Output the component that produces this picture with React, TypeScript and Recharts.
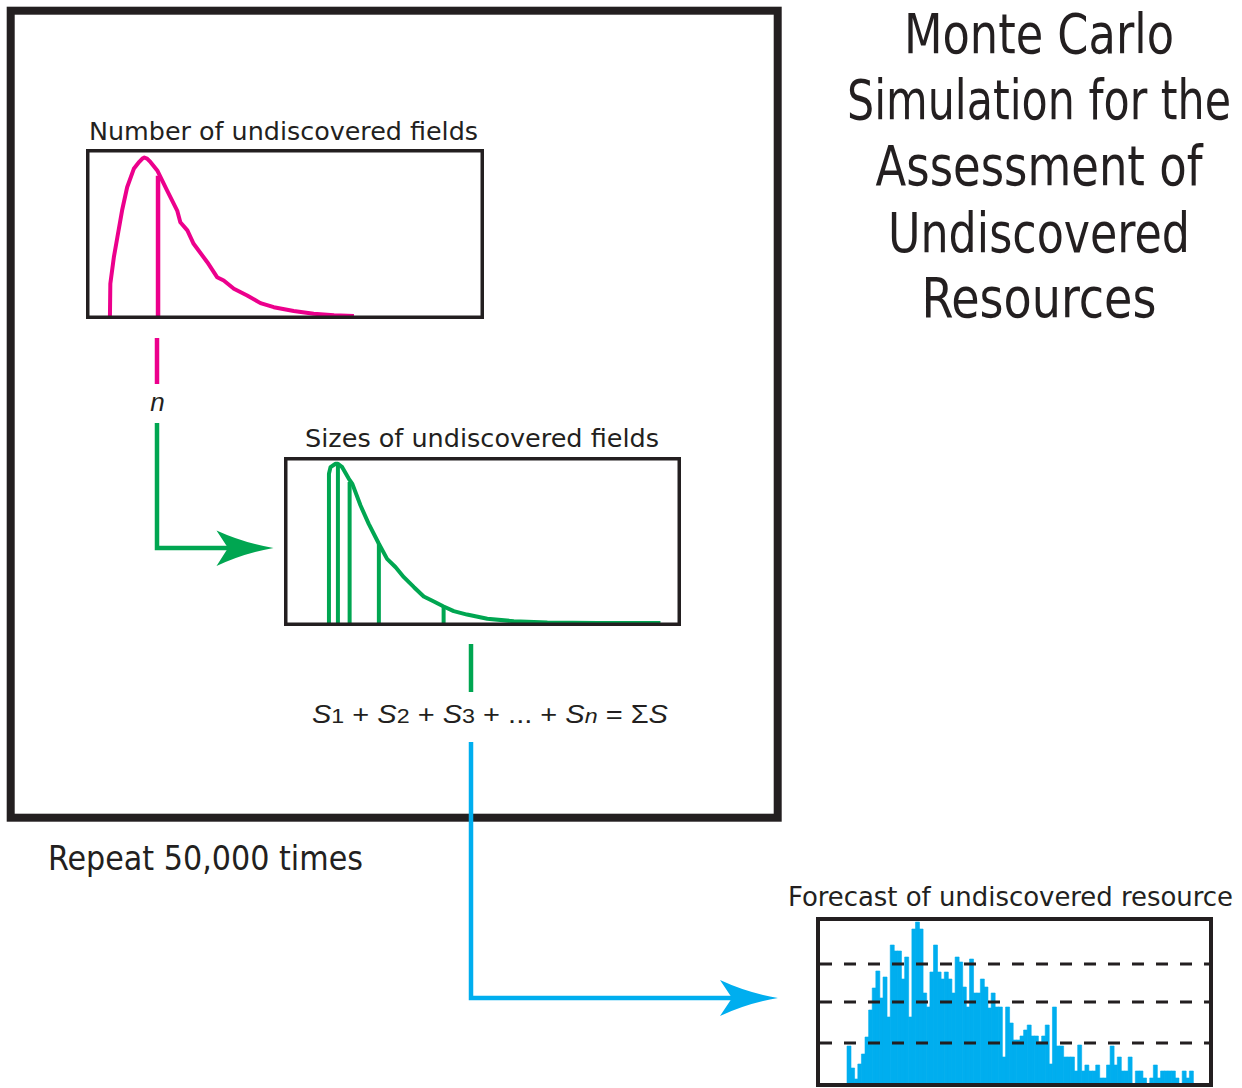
import React from 'react';
import { LineChart, Line, XAxis, YAxis, ReferenceLine, BarChart, Bar } from 'recharts';

// ---------- data ----------
const titleLines = ['Monte Carlo', 'Simulation for the', 'Assessment of', 'Undiscovered', 'Resources'];

// Number of undiscovered fields (pink curve)
const fieldCountX = [5.1, 5.2, 6.1, 7.0, 8.2, 9.5, 11.2, 12.6, 13.4, 13.9, 14.6, 15.5, 17.2, 19.7, 22.3, 23.1, 24.9, 26.5, 30.0, 32.5, 34.2, 36.8, 40.2, 43.6, 47.0, 52.1, 57.2, 62.4, 67.5];
const fieldCountP = [0, 19.8, 36.1, 48.3, 64.7, 79.0, 90.3, 94.6, 96.6, 97.2, 96.6, 94.4, 89.3, 77.0, 64.7, 57.5, 52.5, 44.3, 33.0, 23.8, 21.8, 16.7, 12.6, 7.9, 5.4, 3.1, 1.4, 0.4, 0];
const drawnCount = 17.4;
const drawnCountP = 86;

// Sizes of undiscovered fields (green curve)
const fieldSizeX = [10.5, 10.5, 10.9, 12.2, 12.8, 13.9, 15.6, 16.5, 18.6, 20.7, 23.3, 25.4, 27.6, 29.7, 32.3, 34.8, 37.4, 39.9, 42.5, 45.9, 51.1, 57.9, 66.5, 79.3, 95.5];
const fieldSizeP = [0, 92.1, 96.2, 98.3, 98.3, 96.2, 89.0, 85.9, 72.5, 61.2, 48.9, 39.6, 34.4, 28.3, 22.1, 16.4, 13.3, 10.2, 7.3, 5.2, 2.6, 1.1, 0.3, 0, 0];
const sampledSizes = [12.8, 15.8, 23.3, 39.9];
const sampledSizeP = [98, 87, 49, 10];

// Forecast histogram
const forecastCounts = [
  37, 15, 4, 19, 29, 46, 73, 95, 112, 85,
  106, 66, 138, 132, 132, 104, 126, 66, 154, 161,
  154, 90, 76, 111, 138, 111, 104, 111, 104, 90,
  126, 121, 96, 76, 124, 90, 90, 104, 96, 75,
  90, 76, 76, 26, 76, 60, 43, 43, 47, 53,
  58, 47, 47, 41, 47, 58, 19, 76, 37, 37,
  26, 26,
  26, 12, 38, 12, 18, 12, 12, 18, 5, 5, 18, 37, 18, 26, 12, 12, 26, 0, 12, 12, 5, 0, 5, 18, 5, 12, 12, 12, 12, 5, 0, 12, 5, 12,
];
const forecastGrid = [40, 81, 119];

// ---------- derived tables ----------
const countData = fieldCountX.map((x, i) => ({ x, p: fieldCountP[i] }));
const sizeData = fieldSizeX.map((x, i) => ({ x, p: fieldSizeP[i] }));
const histData = forecastCounts.map((c, i) => ({ bin: i + 1, c }));

const INK = '#231f20';
const PINK = '#ec008c';
const GREEN = '#00a651';
const BLUE = '#00aeef';
const FONT = "'Liberation Sans Narrow', 'DejaVu Sans Condensed', Roboto, sans-serif";
const MATH_FONT = "'Liberation Sans', Arial, sans-serif";

const titleBaselines = [53, 119, 185, 252, 317];
const titleWidths = [270, 384, 327, 302, 235];
const TITLE_CX = 1039;
const TITLE_SX = 0.85;

export default function App() {
  return (
    <div style={{ position: 'absolute', left: 0, top: 0, width: 1242, height: 1088, background: '#fff', fontFamily: FONT }}>
      {/* background decorations */}
      <svg width={1242} height={1088} style={{ position: 'absolute', left: 0, top: 0 }}>
        {/* big repeat box */}
        <rect x={10.7} y={10.7} width={767} height={807} fill="none" stroke={INK} strokeWidth={8} />

        {/* title */}
        {titleLines.map((t, i) => (
          <text key={t} x={0} y={0} transform={`translate(${TITLE_CX},${titleBaselines[i]}) scale(${TITLE_SX},1)`}
            textAnchor="middle" fontSize={55} fill={INK}
            textLength={titleWidths[i] / TITLE_SX} lengthAdjust="spacingAndGlyphs" fontFamily={FONT}>{t}</text>
        ))}

        {/* labels */}
        <text x={89} y={140} fontSize={25} fill={INK} textLength={389} lengthAdjust="spacingAndGlyphs" fontFamily={FONT}>Number of undiscovered fields</text>
        <text x={305} y={447} fontSize={25} fill={INK} textLength={354} lengthAdjust="spacingAndGlyphs" fontFamily={FONT}>Sizes of undiscovered fields</text>
        <text x={1233} y={906} textAnchor="end" fontSize={27} fill={INK} textLength={445} lengthAdjust="spacingAndGlyphs" fontFamily={FONT}>Forecast of undiscovered resource</text>
        <text x={48} y={870} fontSize={34} fill={INK} textLength={315} lengthAdjust="spacingAndGlyphs" fontFamily={FONT}>Repeat 50,000 times</text>

        {/* pink connector and n */}
        <line x1={157} y1={338} x2={157} y2={384} stroke={PINK} strokeWidth={4.5} />
        <text x={157.5} y={411} fontSize={26} fontStyle="italic" textAnchor="middle" fill={INK} fontFamily={MATH_FONT}>n</text>

        {/* green connector + arrow */}
        <path d="M157 423 V548 H232" fill="none" stroke={GREEN} strokeWidth={4.5} />
        <path d="M273.5 548 Q244 543 216.5 530.5 L228 548 L216.5 566 Q244 553 273.5 548 Z" fill={GREEN} />

        {/* green line down to sum */}
        <line x1={471} y1={644} x2={471} y2={692} stroke={GREEN} strokeWidth={4.5} />

        {/* sum formula */}
        <text x={312} y={723} fontSize={25} fill={INK} textLength={356} lengthAdjust="spacingAndGlyphs" fontFamily={MATH_FONT}>
          <tspan fontStyle="italic">S</tspan><tspan fontSize={20}>1</tspan>
          <tspan> + </tspan>
          <tspan fontStyle="italic">S</tspan><tspan fontSize={20}>2</tspan>
          <tspan> + </tspan>
          <tspan fontStyle="italic">S</tspan><tspan fontSize={20}>3</tspan>
          <tspan> + ... + </tspan>
          <tspan fontStyle="italic">S</tspan><tspan fontSize={20} fontStyle="italic">n</tspan>
          <tspan> = Σ</tspan><tspan fontStyle="italic">S</tspan>
        </text>

        {/* blue connector + arrow */}
        <path d="M471 742 V998 H735" fill="none" stroke={BLUE} strokeWidth={4.5} />
        <path d="M778 998 Q748 993 720 980 L732 998 L720 1016 Q748 1003 778 998 Z" fill={BLUE} />
      </svg>

      {/* Number of undiscovered fields */}
      <div style={{ position: 'absolute', left: 89.5, top: 152.5 }}>
        <LineChart width={391} height={163} data={countData} margin={{ top: 0, right: 0, bottom: 0, left: 0 }}>
          <XAxis dataKey="x" type="number" domain={[0, 100]} hide />
          <YAxis type="number" domain={[0, 100]} hide />
          <Line dataKey="p" type="linear" stroke={PINK} strokeWidth={4} dot={false} isAnimationActive={false} strokeLinejoin="round" />
          <ReferenceLine segment={[{ x: drawnCount, y: 0 }, { x: drawnCount, y: drawnCountP }]} stroke={PINK} strokeWidth={4.5} />
        </LineChart>
      </div>

      {/* Sizes of undiscovered fields */}
      <div style={{ position: 'absolute', left: 287.5, top: 460.5 }}>
        <LineChart width={390} height={162} data={sizeData} margin={{ top: 0, right: 0, bottom: 0, left: 0 }}>
          <XAxis dataKey="x" type="number" domain={[0, 100]} hide />
          <YAxis type="number" domain={[0, 100]} hide />
          <Line dataKey="p" type="linear" stroke={GREEN} strokeWidth={4} dot={false} isAnimationActive={false} strokeLinejoin="round" />
          {sampledSizes.map((s, i) => (
            <ReferenceLine key={i} segment={[{ x: s, y: 0 }, { x: s, y: sampledSizeP[i] }]} stroke={GREEN} strokeWidth={4} />
          ))}
        </LineChart>
      </div>

      {/* Forecast histogram */}
      <div style={{ position: 'absolute', left: 820, top: 921 }}>
        <BarChart width={391} height={162} data={histData} margin={{ top: 0, right: 0, bottom: 0, left: 0 }} barCategoryGap={0} barGap={0}>
          <XAxis dataKey="bin" hide padding={{ left: 27, right: 18 }} />
          <YAxis type="number" domain={[0, 162]} hide />
          <Bar dataKey="c" fill={BLUE} stroke={BLUE} strokeWidth={0.6} isAnimationActive={false} />
          {forecastGrid.map((g) => (
            <ReferenceLine key={g} y={g} stroke={INK} strokeWidth={3.2} strokeDasharray="12 12" />
          ))}
        </BarChart>
      </div>

      {/* chart frames on top */}
      <svg width={1242} height={1088} style={{ position: 'absolute', left: 0, top: 0, pointerEvents: 'none' }}>
        <rect x={87.75} y={150.75} width={394.5} height={166.5} fill="none" stroke={INK} strokeWidth={3.5} />
        <rect x={285.75} y={458.75} width={393.5} height={165.5} fill="none" stroke={INK} strokeWidth={3.5} />
        <rect x={818} y={919} width={393} height={166} fill="none" stroke={INK} strokeWidth={4} />
      </svg>
    </div>
  );
}
